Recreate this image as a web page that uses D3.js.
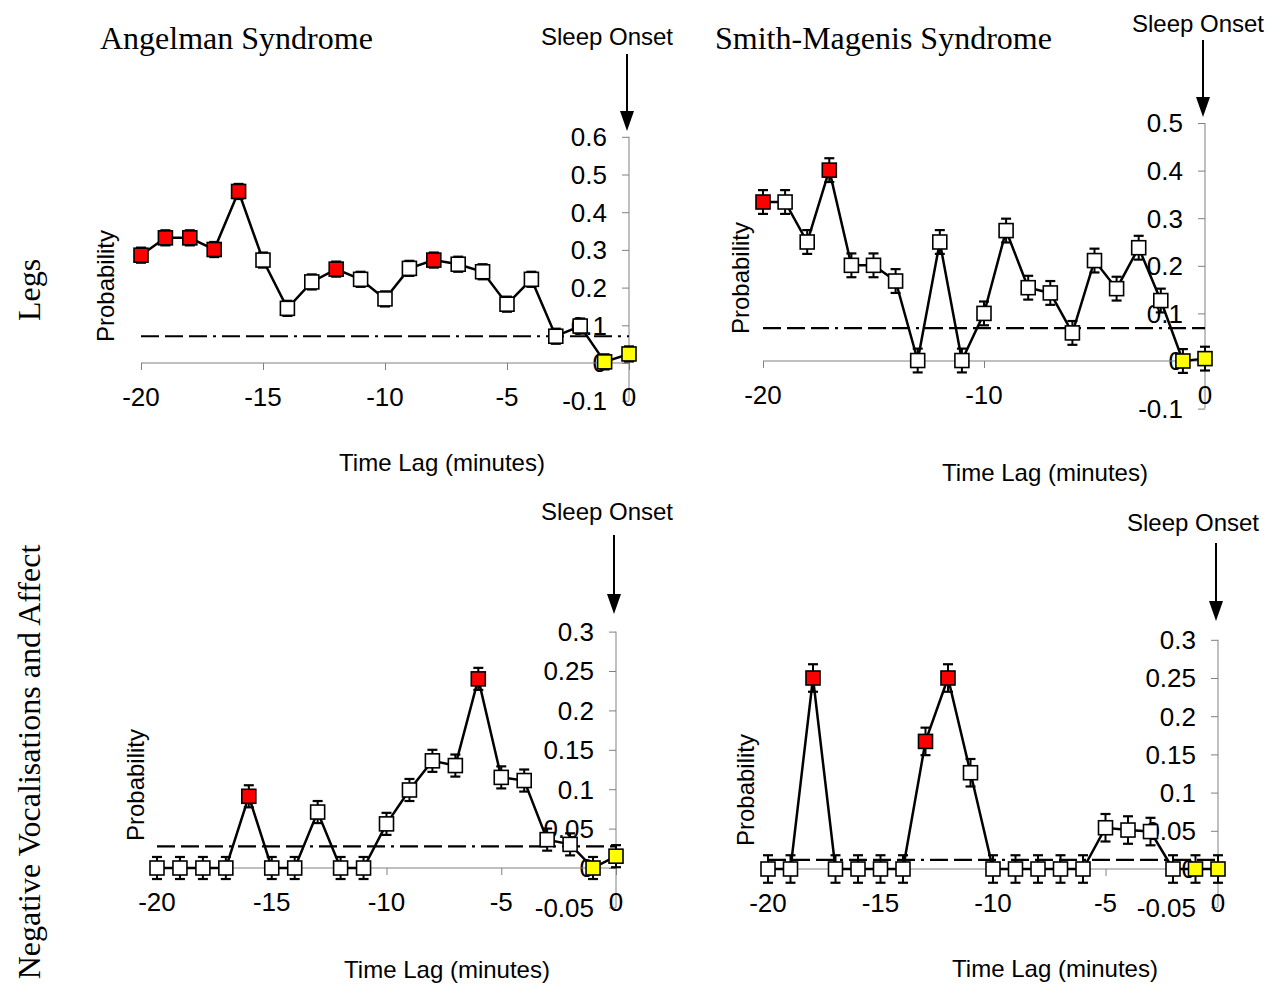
<!DOCTYPE html>
<html><head><meta charset="utf-8">
<script src="https://cdn.jsdelivr.net/npm/d3@7"></script>
<style>
body{margin:0;background:#fff;}
svg{display:block;}
</style></head>
<body>
<svg id="chart" width="1279" height="985"></svg>
<script>
// ---------- data ----------
const lags = [-20,-19,-18,-17,-16,-15,-14,-13,-12,-11,-10,-9,-8,-7,-6,-5,-4,-3,-2,-1,0];

// marker kinds: s = significant (red), n = non-significant (white), o = onset (yellow)
const asLegs      = [0.286,0.332,0.332,0.301,0.455,0.273,0.145,0.215,0.249,0.222,0.170,0.251,0.273,0.262,0.242,0.156,0.222,0.071,0.098,0.003,0.024];
const asLegsKind  = ['s','s','s','s','s','n','n','n','s','n','n','n','s','n','n','n','n','n','n','o','o'];
const asLegsErr   = [0.02,0.02,0.02,0.02,0.02,0.02,0.02,0.02,0.02,0.02,0.02,0.02,0.02,0.02,0.02,0.02,0.02,0.02,0.02,0.02,0.02];
const asLegsChance = 0.071;

const smsLegs     = [0.334,0.334,0.250,0.401,0.201,0.201,0.168,0.001,0.250,0.001,0.100,0.274,0.154,0.143,0.059,0.211,0.152,0.238,0.127,0.000,0.005];
const smsLegsKind = ['s','n','n','s','n','n','n','n','n','n','n','n','n','n','n','n','n','n','n','o','o'];
const smsLegsErr  = [0.025,0.025,0.025,0.025,0.025,0.025,0.025,0.025,0.025,0.025,0.025,0.025,0.025,0.025,0.025,0.025,0.025,0.025,0.025,0.025,0.025];
const smsLegsChance = 0.069;

const asNeg       = [0,0,0,0,0.091,0,0,0.071,0,0,0.056,0.099,0.136,0.130,0.240,0.115,0.111,0.036,0.030,0,0.015];
const asNegKind   = ['n','n','n','n','s','n','n','n','n','n','n','n','n','n','s','n','n','n','n','o','o'];
const asNegErr    = [0.014,0.014,0.014,0.014,0.014,0.014,0.014,0.014,0.014,0.014,0.014,0.014,0.014,0.014,0.014,0.014,0.014,0.014,0.014,0.014,0.014];
const asNegChance = 0.0275;

const smsNeg      = [0,0,0.250,0,0,0,0,0.167,0.250,0.126,0,0,0,0,0,0.054,0.051,0.049,0,0,0];
const smsNegKind  = ['n','n','s','n','n','n','n','s','s','n','n','n','n','n','n','n','n','n','n','o','o'];
const smsNegErr   = [0.018,0.018,0.018,0.018,0.018,0.018,0.018,0.018,0.018,0.018,0.018,0.018,0.018,0.018,0.018,0.018,0.018,0.018,0.018,0.018,0.018];
const smsNegChance = 0.012;

const xTicksFive = [-20,-15,-10,-5,0];
const xTicksTen  = [-20,-10,0];
const yTicksLegsAS  = [-0.1,0,0.1,0.2,0.3,0.4,0.5,0.6];
const yTicksLegsSMS = [-0.1,0,0.1,0.2,0.3,0.4,0.5];
const yTicksNeg     = [-0.05,0,0.05,0.1,0.15,0.2,0.25,0.3];

const titles = ["Angelman Syndrome","Smith-Magenis Syndrome"];
const rowLabels = ["Legs","Negative Vocalisations and Affect"];

// ---------- layout ----------
const kindFill = {s:"#ff0000", n:"#ffffff", o:"#ffff00"};
const svg = d3.select("#chart");
const SANS = "'Liberation Sans', Arial, sans-serif";
const SERIF = "'Liberation Serif', 'Times New Roman', serif";

const panels = [
  {vals:asLegs, kind:asLegsKind, err:asLegsErr, chance:asLegsChance, yDom:[-0.1,0.6], yTicks:yTicksLegsAS, xTicks:xTicksFive,
   xr:[141,629], yr:[400.7,136.8], onset:{tx:607,ty:36,y1:54,y2:131}, prob:[105,286], lag:[442,462]},
  {vals:smsLegs, kind:smsLegsKind, err:smsLegsErr, chance:smsLegsChance, yDom:[-0.1,0.5], yTicks:yTicksLegsSMS, xTicks:xTicksTen,
   xr:[763,1205], yr:[408.6,123], onset:{tx:1198,ty:23,y1:40,y2:117}, prob:[740,278], lag:[1045,472]},
  {vals:asNeg, kind:asNegKind, err:asNegErr, chance:asNegChance, yDom:[-0.05,0.3], yTicks:yTicksNeg, xTicks:xTicksFive,
   xr:[157,616], yr:[907.4,631.6], onset:{tx:607,ty:511,y1:535,y2:614}, prob:[135,785], lag:[447,969]},
  {vals:smsNeg, kind:smsNegKind, err:smsNegErr, chance:smsNegChance, yDom:[-0.05,0.3], yTicks:yTicksNeg, xTicks:xTicksFive,
   xr:[768,1218], yr:[907.2,639.8], onset:{tx:1193,ty:522,y1:543,y2:621}, prob:[745,790], lag:[1055,968]}
];

function fmt(v){ return String(+v.toFixed(3)); }

panels.forEach(p => {
  const x = d3.scaleLinear().domain([-20,0]).range(p.xr);
  const y = d3.scaleLinear().domain(p.yDom).range(p.yr);
  const g = svg.append("g");
  const y0 = y(0);

  // y axis
  const ya = g.append("g").attr("transform",`translate(${x(0)},0)`)
    .call(d3.axisLeft(y).tickValues(p.yTicks).tickSize(7).tickFormat(""));
  ya.selectAll("path,line").attr("stroke","#808080").attr("stroke-width",1);
  ya.select(".domain").attr("d",`M0,${y(p.yDom[0])}V${y(p.yDom[1])}`);
  g.selectAll(".ylab").data(p.yTicks).join("text")
    .attr("x", x(0)-22).attr("y", d=>y(d)).attr("dy","0.36em")
    .attr("text-anchor","end").attr("font-family",SANS).attr("font-size",26)
    .text(d=>fmt(d));

  // x axis
  const xa = g.append("g").attr("transform",`translate(0,${y0})`)
    .call(d3.axisBottom(x).tickValues(p.xTicks).tickSize(7).tickFormat(""));
  xa.selectAll("path,line").attr("stroke","#808080").attr("stroke-width",1);
  xa.select(".domain").attr("d",`M${x(-20)},0H${x(0)}`);
  g.selectAll(".xlab").data(p.xTicks).join("text")
    .attr("x", d=>x(d)).attr("y", y0+43)
    .attr("text-anchor","middle").attr("font-family",SANS).attr("font-size",26)
    .text(d=>String(d));

  // chance line
  g.append("line").attr("x1",x(-20)).attr("x2",x(0))
    .attr("y1",y(p.chance)).attr("y2",y(p.chance))
    .attr("stroke","#000").attr("stroke-width",2.2)
    .attr("stroke-dasharray","18,6,18,6,18,6,3,6");

  // data line
  const pts = lags.map((l,i)=>({l, v:p.vals[i], k:p.kind[i], e:p.err[i]}));
  g.append("path").datum(pts)
    .attr("d", d3.line().x(d=>x(d.l)).y(d=>y(d.v)))
    .attr("fill","none").attr("stroke","#000").attr("stroke-width",2.5);

  // error bars
  const eb = g.selectAll(".eb").data(pts).join("g");
  eb.append("line").attr("x1",d=>x(d.l)).attr("x2",d=>x(d.l))
    .attr("y1",d=>y(d.v-d.e)).attr("y2",d=>y(d.v+d.e)).attr("stroke","#000").attr("stroke-width",2);
  eb.append("line").attr("x1",d=>x(d.l)-5).attr("x2",d=>x(d.l)+5)
    .attr("y1",d=>y(d.v+d.e)).attr("y2",d=>y(d.v+d.e)).attr("stroke","#000").attr("stroke-width",2.2);
  eb.append("line").attr("x1",d=>x(d.l)-5).attr("x2",d=>x(d.l)+5)
    .attr("y1",d=>y(d.v-d.e)).attr("y2",d=>y(d.v-d.e)).attr("stroke","#000").attr("stroke-width",2.2);

  // markers
  const s = 14;
  g.selectAll(".mk").data(pts).join("rect")
    .attr("x",d=>x(d.l)-s/2).attr("y",d=>y(d.v)-s/2).attr("width",s).attr("height",s)
    .attr("fill",d=>kindFill[d.k]).attr("stroke","#000").attr("stroke-width",1.6);

  // sleep onset
  svg.append("text").attr("x",p.onset.tx).attr("y",p.onset.ty).attr("dy","0.36em")
    .attr("text-anchor","middle").attr("font-family",SANS).attr("font-size",24).text("Sleep Onset");
  const ax = x(0)-2;
  svg.append("line").attr("x1",ax).attr("x2",ax).attr("y1",p.onset.y1).attr("y2",p.onset.y2-18)
    .attr("stroke","#000").attr("stroke-width",2);
  svg.append("path").attr("d",`M${ax-7},${p.onset.y2-20}L${ax+7},${p.onset.y2-20}L${ax},${p.onset.y2}Z`)
    .attr("fill","#000");

  // axis titles
  svg.append("text").attr("transform",`translate(${p.prob[0]},${p.prob[1]}) rotate(-90)`)
    .attr("text-anchor","middle").attr("dy","0.36em").attr("font-family",SANS).attr("font-size",24).text("Probability");
  svg.append("text").attr("x",p.lag[0]).attr("y",p.lag[1]).attr("dy","0.36em")
    .attr("text-anchor","middle").attr("font-family",SANS).attr("font-size",24).text("Time Lag (minutes)");
});

// panel titles
svg.append("text").attr("x",100).attr("y",37).attr("dy","0.36em").attr("font-family",SERIF).attr("font-size",32).text(titles[0]);
svg.append("text").attr("x",715).attr("y",37).attr("dy","0.36em").attr("font-family",SERIF).attr("font-size",32).text(titles[1]);

// row labels
svg.append("text").attr("transform","translate(28,290) rotate(-90)").attr("text-anchor","middle").attr("dy","0.36em")
  .attr("font-family",SERIF).attr("font-size",32).text(rowLabels[0]);
svg.append("text").attr("transform","translate(28,762) rotate(-90)").attr("text-anchor","middle").attr("dy","0.36em")
  .attr("font-family",SERIF).attr("font-size",32).text(rowLabels[1]);
</script>
</body></html>
